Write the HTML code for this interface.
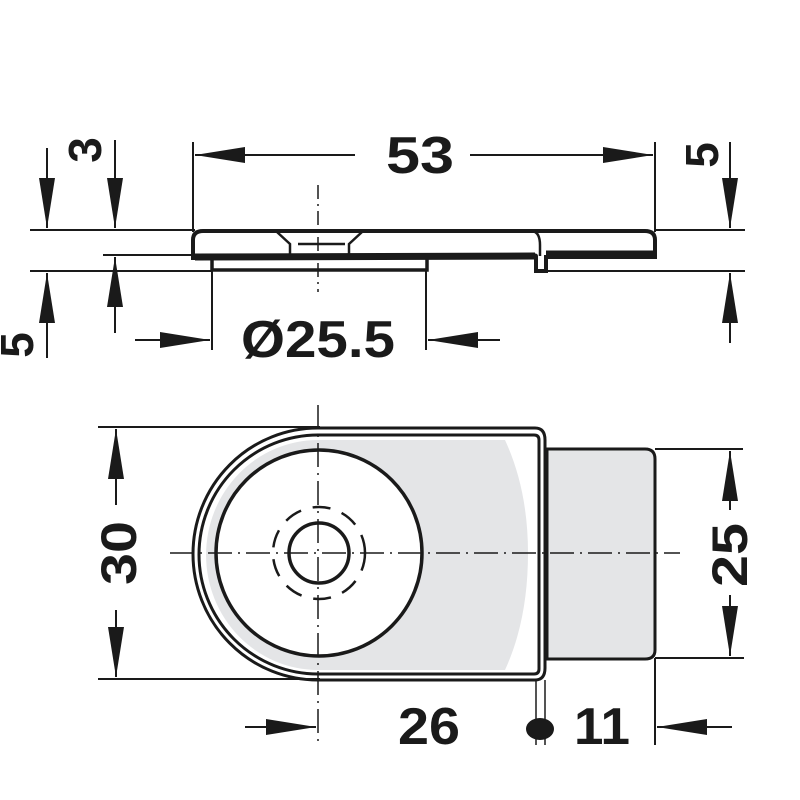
<!DOCTYPE html>
<html><head><meta charset="utf-8"><style>
html,body{margin:0;padding:0;background:#fff}
svg{display:block}
text{font-family:"Liberation Sans",sans-serif;font-weight:bold;fill:#1a1a1a}
</style></head><body>
<svg width="800" height="800" viewBox="0 0 800 800" xmlns="http://www.w3.org/2000/svg">
<defs>
<marker id="a" viewBox="0 0 50 16" refX="50" refY="8" markerWidth="50" markerHeight="16" markerUnits="userSpaceOnUse" orient="auto">
<path d="M0,0 L50,8 L0,16 Z" fill="#1a1a1a"/></marker>
</defs>
<g stroke="#1a1a1a" fill="none">
<line x1="30" y1="230" x2="195" y2="230" stroke-width="2"/>
<line x1="655" y1="230" x2="745" y2="230" stroke-width="2"/>
<line x1="30" y1="271" x2="212" y2="271" stroke-width="2"/>
<line x1="546" y1="271" x2="745" y2="271" stroke-width="2"/>
<line x1="103" y1="255" x2="195" y2="255" stroke-width="2"/>
<line x1="47" y1="148" x2="47" y2="228" stroke-width="2" marker-end="url(#a)"/>
<line x1="115" y1="140" x2="115" y2="228" stroke-width="2" marker-end="url(#a)"/>
<line x1="47" y1="358" x2="47" y2="273" stroke-width="2" marker-end="url(#a)"/>
<line x1="115" y1="333" x2="115" y2="257" stroke-width="2" marker-end="url(#a)"/>
<line x1="730" y1="142" x2="730" y2="228" stroke-width="2" marker-end="url(#a)"/>
<line x1="730" y1="343" x2="730" y2="273" stroke-width="2" marker-end="url(#a)"/>
<line x1="193" y1="142" x2="193" y2="232" stroke-width="2"/>
<line x1="655" y1="142" x2="655" y2="232" stroke-width="2"/>
<line x1="355" y1="155" x2="195" y2="155" stroke-width="2" marker-end="url(#a)"/>
<line x1="470" y1="155" x2="653" y2="155" stroke-width="2" marker-end="url(#a)"/>
<line x1="212" y1="271" x2="212" y2="350" stroke-width="2"/>
<line x1="426" y1="271" x2="426" y2="350" stroke-width="2"/>
<line x1="135" y1="340" x2="210" y2="340" stroke-width="2" marker-end="url(#a)"/>
<line x1="500" y1="340" x2="428" y2="340" stroke-width="2" marker-end="url(#a)"/>
<line x1="318" y1="185" x2="318" y2="292" stroke-width="1.5" stroke-dasharray="14,5,2,5"/>
<path d="M193,258 L193,240 Q193,231 203,231 L645,231 Q655,231 655,240 L655,257 L546,257 L546,271 L536,271 L536,256 Q536,255 533,256 L203,258 Z" stroke-width="4"/>
<path d="M195,257 L535,256 M546,254 L655,254" stroke-width="7"/>
<path d="M533,231 Q540,233 540,245 L540,256" stroke-width="2.5"/>
<path d="M277,232 L290,244 L290,256 M362,232 L349,244 L349,256 M298,244 L345,244" stroke-width="2.5"/>
<path d="M212,259 L212,270 L427,270 L427,258" stroke-width="3.5"/>
<path d="M545,680 L545,440 Q545,428 533,428 L318,428 A125,126 0 0 0 318,680 Z" fill="#fff" stroke-width="0"/>
<path d="M318,440 L505,440 Q528,490 528,553 Q528,620 505,670 L318,670 A112,115 0 0 1 318,440 Z" fill="#e4e5e7" stroke="none"/>
<path d="M547,449 L645,449 Q655,449 655,459 L655,650 Q655,659 645,659 L547,659 Z" fill="#e4e5e7" stroke-width="3"/>
<path d="M318,428 L535,428 Q545,428 545,440 L545,668 Q545,680 535,680 L318,680 A125,126 0 0 1 318,428 Z" stroke-width="3"/>
<path d="M318,435 L534,435 Q539,435 539,440 L539,669 Q539,674 534,674 L318,674 A119,119.5 0 0 1 318,435 Z" stroke-width="3"/>
<circle cx="319" cy="553" r="103" fill="#fff" stroke-width="3.5"/>
<circle cx="319" cy="553" r="46" stroke-width="2.5" stroke-dasharray="18,12"/>
<circle cx="319" cy="553" r="30" stroke-width="3.5"/>
<line x1="170" y1="553" x2="680" y2="553" stroke-width="1.5" stroke-dasharray="24,6,2,6"/>
<line x1="318" y1="405" x2="318" y2="745" stroke-width="1.5" stroke-dasharray="24,6,2,6"/>
<line x1="98" y1="427" x2="320" y2="427" stroke-width="2"/>
<line x1="98" y1="679" x2="320" y2="679" stroke-width="2"/>
<line x1="116" y1="505" x2="116" y2="429" stroke-width="2" marker-end="url(#a)"/>
<line x1="116" y1="610" x2="116" y2="677" stroke-width="2" marker-end="url(#a)"/>
<line x1="655" y1="449" x2="743" y2="449" stroke-width="2"/>
<line x1="655" y1="658" x2="744" y2="658" stroke-width="2"/>
<line x1="730" y1="510" x2="730" y2="451" stroke-width="2" marker-end="url(#a)"/>
<line x1="730" y1="595" x2="730" y2="656" stroke-width="2" marker-end="url(#a)"/>
<line x1="655" y1="658" x2="655" y2="745" stroke-width="2"/>
<line x1="536" y1="680" x2="536" y2="745" stroke-width="1.5"/>
<line x1="545" y1="680" x2="545" y2="745" stroke-width="1.5"/>
<line x1="245" y1="727" x2="316" y2="727" stroke-width="2" marker-end="url(#a)"/>
<line x1="732" y1="727" x2="657" y2="727" stroke-width="2" marker-end="url(#a)"/>
</g>
<ellipse cx="540" cy="729" rx="14" ry="11" fill="#1a1a1a"/>
<text x="386" y="173" font-size="52" textLength="68" lengthAdjust="spacingAndGlyphs">53</text>
<text x="241" y="357" font-size="52" textLength="154" lengthAdjust="spacingAndGlyphs">Ø25.5</text>
<text transform="translate(101,150) rotate(-90)" font-size="46" text-anchor="middle">3</text>
<text transform="translate(33,345) rotate(-90)" font-size="46" text-anchor="middle">5</text>
<text transform="translate(718,155) rotate(-90)" font-size="46" text-anchor="middle">5</text>
<text transform="translate(136,553) rotate(-90)" font-size="50" text-anchor="middle" textLength="64" lengthAdjust="spacingAndGlyphs">30</text>
<text transform="translate(747,555) rotate(-90)" font-size="50" text-anchor="middle" textLength="64" lengthAdjust="spacingAndGlyphs">25</text>
<text x="398" y="744" font-size="52" textLength="62" lengthAdjust="spacingAndGlyphs">26</text>
<text x="574" y="744" font-size="52" textLength="56" lengthAdjust="spacingAndGlyphs">11</text>
</svg>
</body></html>
